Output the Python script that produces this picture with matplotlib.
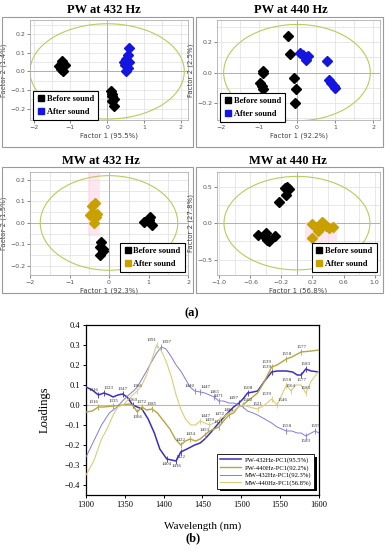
import numpy as np
import matplotlib
matplotlib.use("Agg")
import matplotlib.pyplot as plt
from matplotlib.patches import Ellipse, Rectangle
from matplotlib.lines import Line2D
from matplotlib.ticker import AutoMinorLocator

W, H = 385, 550

# ---- PCA score data ----
pw432_before_x = [-1.23, -1.30, -1.16, -1.26, -1.19, 0.10, 0.145, 0.19, 0.12, 0.19, 0.14]
pw432_before_y = [0.055, 0.028, 0.035, 0.014, 0.002, -0.105, -0.13, -0.15, -0.16, -0.185, -0.12]
pw432_after_x = [0.60, 0.56, 0.52, 0.46, 0.60, 0.52, 0.57, 0.52, 0.48]
pw432_after_y = [0.127, 0.09, 0.068, 0.05, 0.05, 0.032, 0.02, 0.0, 0.035]

pw440_before_x = [-0.24, -0.18, -0.90, -0.90, -0.97, -0.93, -0.90, -0.08, -0.03, -0.05]
pw440_before_y = [0.24, 0.12, 0.013, -0.005, -0.07, -0.085, -0.11, -0.035, -0.11, -0.20]
pw440_after_x = [0.08, 0.21, 0.24, 0.30, 0.17, 0.78, 0.85, 0.90, 0.96, 1.00]
pw440_after_y = [0.128, 0.10, 0.08, 0.11, 0.115, 0.075, -0.05, -0.07, -0.085, -0.10]

mw432_before_x = [0.88, 1.05, 1.10, 1.00, -0.20, -0.24, -0.14, -0.22, -0.16]
mw432_before_y = [0.005, 0.03, -0.01, 0.015, -0.09, -0.11, -0.13, -0.15, -0.12]
mw432_after_x = [-0.36, -0.42, -0.48, -0.40, -0.33, -0.37, -0.30]
mw432_after_y = [0.095, 0.08, 0.037, 0.045, 0.03, 0.0, 0.04]

mw440_before_x = [-0.13, -0.10, -0.14, -0.23, -0.15, -0.50, -0.40, -0.38, -0.28, -0.36, -0.42]
mw440_before_y = [0.50, 0.47, 0.38, 0.29, 0.48, -0.16, -0.13, -0.23, -0.18, -0.25, -0.17]
mw440_after_x = [0.20, 0.25, 0.32, 0.37, 0.27, 0.41, 0.46, 0.20, 0.34, 0.30]
mw440_after_y = [-0.01, -0.05, 0.01, -0.04, -0.11, -0.06, -0.05, -0.20, 0.0, -0.06]

# ---- loading spectra ----
wl_pw432 = [1300, 1308, 1316, 1323, 1330, 1335, 1341, 1347, 1353, 1360, 1366, 1372, 1380, 1388,
            1395, 1404, 1410, 1416, 1422, 1430, 1440, 1447, 1453, 1460, 1471, 1480, 1490, 1497,
            1502, 1508, 1515, 1521, 1530, 1539, 1546, 1558, 1566, 1572, 1577, 1583, 1590, 1600]
ld_pw432 = [0.09, 0.075, 0.05, 0.06, 0.05, 0.04, 0.05, 0.055, 0.04, 0.0, -0.01, -0.02, -0.07, -0.14,
            -0.22, -0.27, -0.275, -0.28, -0.235, -0.22, -0.20, -0.19, -0.17, -0.14, -0.09, -0.05, -0.01, 0.01,
            0.03, 0.06, 0.065, 0.07, 0.12, 0.165, 0.17, 0.17, 0.165, 0.15, 0.15, 0.18, 0.17, 0.165]

wl_pw440 = [1300, 1308, 1316, 1323, 1335, 1347, 1355, 1360, 1366, 1372, 1378, 1385, 1392, 1400,
            1408, 1415, 1422, 1428, 1434, 1441, 1447, 1453, 1459, 1465, 1471, 1477, 1484, 1490,
            1496, 1502, 1508, 1521, 1530, 1539, 1546, 1558, 1565, 1577, 1590, 1600]
ld_pw440 = [-0.035, -0.03, -0.01, -0.01, -0.005, 0.0, 0.005, 0.0, -0.035, -0.01, -0.025, -0.02, -0.04, -0.08,
            -0.12, -0.17, -0.20, -0.18, -0.17, -0.18, -0.17, -0.15, -0.13, -0.12, -0.11, -0.08, -0.05, -0.04,
            -0.01, 0.0, 0.02, 0.06, 0.12, 0.19, 0.20, 0.23, 0.24, 0.265, 0.27, 0.275]

wl_mw432 = [1300, 1310, 1320, 1330, 1340, 1347, 1355, 1361, 1366, 1372, 1378, 1385, 1391, 1397,
            1403, 1410, 1416, 1422, 1428, 1434, 1440, 1447, 1453, 1459, 1465, 1471, 1477, 1484,
            1490, 1497, 1502, 1508, 1515, 1521, 1530, 1539, 1546, 1552, 1558, 1565, 1572, 1577,
            1583, 1590, 1595, 1600]
ld_mw432 = [-0.26, -0.18, -0.10, -0.04, -0.01, 0.02, 0.05, 0.07, 0.09, 0.13, 0.17, 0.22, 0.26, 0.29,
            0.28, 0.24, 0.20, 0.17, 0.13, 0.09, 0.07, 0.065, 0.06, 0.05, 0.04, 0.02, 0.02, 0.01,
            0.01, 0.0, -0.01, -0.03, -0.04, -0.05, -0.07, -0.09, -0.11, -0.12, -0.13, -0.13, -0.14, -0.14,
            -0.155, -0.14, -0.13, -0.14]

wl_mw440 = [1300, 1310, 1320, 1327, 1335, 1341, 1348, 1355, 1360, 1366, 1372, 1378, 1385, 1391,
            1397, 1403, 1410, 1416, 1422, 1428, 1435, 1441, 1447, 1453, 1459, 1465, 1472, 1477,
            1484, 1490, 1496, 1502, 1510, 1521, 1530, 1539, 1546, 1552, 1558, 1564, 1570, 1577,
            1583, 1590, 1600]
ld_mw440 = [-0.35, -0.28, -0.17, -0.12, -0.05, -0.01, 0.0, 0.03, 0.05, 0.07, 0.10, 0.15, 0.23, 0.30,
            0.27, 0.22, 0.14, 0.05, -0.02, -0.07, -0.10, -0.10, -0.08, -0.09, -0.10, -0.09, -0.07, -0.06,
            -0.04, -0.03, -0.01, 0.0, -0.01, -0.02, 0.0, 0.03, 0.0, 0.05, 0.10, 0.07, 0.10, 0.10,
            0.06, 0.12, 0.17]

# peak labels per series: (wavelength, label above the line?)
pk_pw432 = [(1316, True), (1323, True), (1347, True), (1360, True), (1404, False), (1416, False),
            (1422, False), (1497, True), (1508, True), (1539, True), (1577, False), (1583, True)]
pk_pw440 = [(1316, True), (1335, True), (1366, False), (1372, True), (1385, True), (1422, True),
            (1434, True), (1453, True), (1471, True), (1484, True), (1502, True), (1539, True),
            (1558, True), (1577, True)]
pk_mw432 = [(1397, True), (1440, True), (1447, True), (1465, True), (1471, True), (1558, True),
            (1583, False), (1595, True)]
pk_mw440 = [(1366, True), (1391, True), (1447, True), (1459, True), (1472, True), (1521, True),
            (1539, True), (1546, True), (1558, True), (1564, True), (1583, True)]

# labels that sit side by side are nudged left/right
label_ha = {1316: "right", 1323: "left", 1391: "right", 1397: "left", 1440: "right",
            1447: "left", 1497: "right", 1502: "left", 1539: "right", 1546: "left"}

series = [
    ("PW-432Hz-PC1(95.5%)", wl_pw432, ld_pw432, pk_pw432, "#3b2fc0", 1.1),
    ("PW-440Hz-PC1(92.2%)", wl_pw440, ld_pw440, pk_pw440, "#b5a640", 1.0),
    ("MW-432Hz-PC1(92.3%)", wl_mw432, ld_mw432, pk_mw432, "#7d7de2", 0.7),
    ("MW-440Hz-PC1(56.8%)", wl_mw440, ld_mw440, pk_mw440, "#d9cd7a", 0.8),
]

BLUE = "#1515e0"
GOLD = "#c8a000"


def fbox(x0, y0, x1, y1):
    return [x0 / W, 1 - y1 / H, (x1 - x0) / W, (y1 - y0) / H]


fig = plt.figure(figsize=(W / 100, H / 100), dpi=100)

# panel frames
for x0, y0, x1, y1 in [(2, 17, 193, 147), (196, 17, 383, 147), (2, 167, 193, 293), (196, 167, 383, 293)]:
    fig.add_artist(Rectangle((x0 / W, 1 - y1 / H), (x1 - x0) / W, (y1 - y0) / H,
                             transform=fig.transFigure, fill=False, ec="#9a9a9a", lw=0.8))


def pca_panel(box, title, tx, ty, bx, by, axx, ayy, acol, xlab, ylab, xlim, ylim,
              xticks, yticks, ell, leg_loc, leg_anchor, pink=None):
    ax = fig.add_axes(fbox(*box))
    ax.set_xlim(*xlim)
    ax.set_ylim(*ylim)
    ax.set_xticks(xticks)
    ax.set_yticks(yticks)
    ax.xaxis.set_minor_locator(AutoMinorLocator(2))
    ax.yaxis.set_minor_locator(AutoMinorLocator(2))
    ax.grid(True, which="both", color="#dedede", lw=0.5)
    ax.set_axisbelow(True)
    ax.axhline(0, color="#9a9a9a", lw=0.5, zorder=1)
    ax.axvline(0, color="#9a9a9a", lw=0.5, zorder=1)
    if pink:
        ax.add_patch(Rectangle((pink[0], pink[1]), pink[2], pink[3], color="#ffd6e6", alpha=0.6, lw=0, zorder=1))
    ax.add_patch(Ellipse((0, 0), ell[0], ell[1], fill=False, ec="#b7cc5a", lw=0.8, zorder=2))
    ax.plot(bx, by, "D", color="black", ms=5, zorder=3)
    ax.plot(axx, ayy, "D", color=acol, ms=5, zorder=3)
    for s in ax.spines.values():
        s.set_color("#b0b0b0")
        s.set_linewidth(0.6)
    ax.tick_params(labelsize=4.5, colors="#555555", length=2, width=0.5, pad=1.5)
    ax.tick_params(which="minor", length=0)
    ax.set_xlabel(xlab, fontsize=5, color="#444444", labelpad=2)
    ax.set_ylabel(ylab, fontsize=5, color="#444444", labelpad=2)
    fig.text(tx / W, 1 - ty / H, title, fontsize=9, fontweight="bold",
             family="Liberation Serif", ha="center", va="center")
    handles = [Line2D([], [], marker="s", ls="none", color="black", ms=4.5),
               Line2D([], [], marker="s", ls="none", color=acol, ms=4.5)]
    leg = ax.legend(handles, ["Before sound", "After sound"], loc=leg_loc, bbox_to_anchor=leg_anchor,
                    prop={"family": "Liberation Serif", "weight": "bold", "size": 6},
                    fancybox=False, framealpha=1, edgecolor="black", handletextpad=0.3,
                    handlelength=0.8, borderpad=0.5, labelspacing=0.6, borderaxespad=0.2)
    leg.get_frame().set_linewidth(0.8)
    leg.set_zorder(5)
    return ax


pca_panel((30, 20, 188, 120), "PW at 432 Hz", 104, 10,
          pw432_before_x, pw432_before_y, pw432_after_x, pw432_after_y, BLUE,
          "Factor 1 (95.5%)", "Factor 2 (1.4%)", (-2.1, 2.2), (-0.26, 0.275),
          [-2, -1, 0, 1, 2], [-0.2, -0.1, 0.0, 0.1, 0.2], (4.2, 0.51),
          "lower left", (0.01, -0.02))

pca_panel((217, 20, 380, 120), "PW at 440 Hz", 291, 10,
          pw440_before_x, pw440_before_y, pw440_after_x, pw440_after_y, BLUE,
          "Factor 1 (92.2%)", "Factor 2 (2.5%)", (-2.1, 2.18), (-0.31, 0.344),
          [-2, -1, 0, 1, 2], [-0.2, 0.0, 0.2], (3.85, 0.63),
          "lower left", (0.01, -0.04))

pca_panel((30, 172, 188, 275), "MW at 432 Hz", 101, 161,
          mw432_before_x, mw432_before_y, mw432_after_x, mw432_after_y, GOLD,
          "Factor 1 (92.3%)", "Factor 2 (1.5%)", (-1.9, 1.86), (-0.242, 0.237),
          [-2, -1, 0, 1, 2], [-0.2, -0.1, 0.0, 0.1, 0.2], (3.48, 0.44),
          "lower right", (0.99, 0.01), pink=(-0.52, -0.06, 0.3, 0.3))

pca_panel((217, 172, 380, 275), "MW at 440 Hz", 288, 161,
          mw440_before_x, mw440_before_y, mw440_after_x, mw440_after_y, GOLD,
          "Factor 1 (56.8%)", "Factor 2 (27.8%)", (-1.03, 1.07), (-0.71, 0.70),
          [-1.0, -0.6, -0.2, 0.2, 0.6, 1.0], [-0.5, 0.0, 0.5], (1.88, 1.28),
          "lower right", (0.99, 0.01), pink=(0.1, -0.24, 0.42, 0.26))

fig.text(192 / W, 1 - 313 / H, "(a)", fontsize=9, fontweight="bold",
         family="Liberation Serif", ha="center", va="center")

# ---- loadings panel ----
ax = fig.add_axes(fbox(86, 325, 319, 495))
ax.axhline(0, color="#c9b79a", lw=0.8, zorder=1)
for name, wl, ld, peaks, col, lw in series:
    ax.plot(wl, ld, color=col, lw=lw, label=name, zorder=3)
    for p, up in peaks:
        v = np.interp(p, wl, ld)
        ax.plot([p], [v], marker="|", ms=4, mew=0.6, color=col, zorder=3)
        ax.annotate(str(p), (p, v), xytext=(0, 2.5 if up else -2.5), textcoords="offset points",
                    ha=label_ha.get(p, "center"), va="bottom" if up else "top", fontsize=3.6,
                    family="Liberation Serif", color="#333333", zorder=4)
ax.set_xlim(1300, 1600)
ax.set_ylim(-0.45, 0.4)
ax.set_xticks(range(1300, 1601, 50))
ax.set_yticks([-0.4, -0.3, -0.2, -0.1, 0.0, 0.1, 0.2, 0.3, 0.4])
ax.tick_params(labelsize=6, direction="out", length=2.5, width=0.7, pad=2)
for lab in ax.get_xticklabels() + ax.get_yticklabels():
    lab.set_family("Liberation Serif")
for s in ax.spines.values():
    s.set_linewidth(0.9)
ax.set_xlabel("Wavelength (nm)", fontsize=8, family="Liberation Serif", labelpad=9)
ax.set_ylabel("Loadings", fontsize=9, family="Liberation Serif", labelpad=10)
leg = ax.legend(loc="lower right", bbox_to_anchor=(0.985, 0.03), fancybox=False, framealpha=1,
                edgecolor="black", prop={"family": "Liberation Serif", "size": 4.8},
                handlelength=3.2, labelspacing=0.25, borderpad=0.4, handletextpad=0.5,
                shadow={"color": "black", "alpha": 1, "lw": 0}, borderaxespad=0.2)
leg.get_frame().set_linewidth(0.6)

fig.text(193 / W, 1 - 538 / H, "(b)", fontsize=9, fontweight="bold",
         family="Liberation Serif", ha="center", va="center")

fig.savefig("out.png", dpi=100)
